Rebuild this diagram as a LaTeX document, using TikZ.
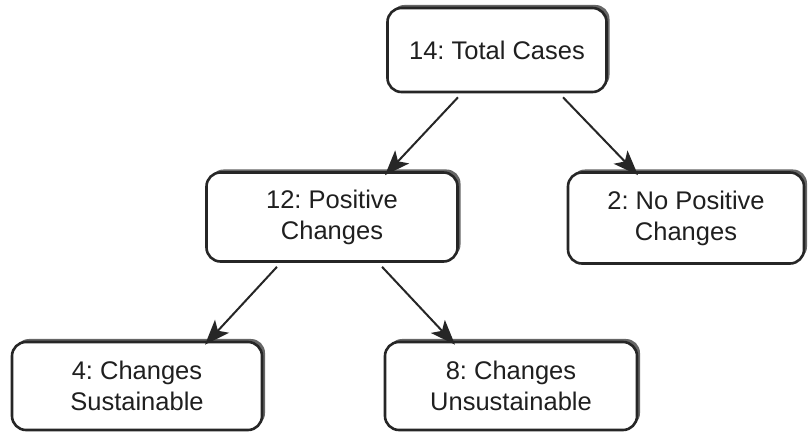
\documentclass[tikz,border=0pt]{standalone}
\usepackage{fontspec}
\setmainfont{Liberation Sans}
\usetikzlibrary{shadows,arrows.meta,calc}
\begin{document}
\frenchspacing
\begin{tikzpicture}[x=1bp,y=-1bp,
  box/.style={draw=black!85, line width=2.6bp, rounded corners=14bp, fill=white,
    align=center, font=\fontsize{25.5bp}{31bp}\selectfont, text=black!88,
    drop shadow={shadow xshift=3bp, shadow yshift=3bp, fill=black!60, opacity=1},
    inner sep=0pt},
  arr/.style={line width=2bp, draw=black!85, -{Stealth[length=25bp,width=19bp,inset=6bp]}}]
\useasboundingbox (0,0) rectangle (808,433);
\node[box, minimum width=219bp, minimum height=84bp] (top) at (497,50) {14: Total Cases};
\node[box, minimum width=251bp, minimum height=89bp] (pos) at (332,217) {12: Positive\\Changes};
\node[box, minimum width=236bp, minimum height=91bp] (neg) at (686,218) {2: No Positive\\Changes};
\node[box, minimum width=250bp, minimum height=88bp] (sus) at (137,386) {4: Changes\\Sustainable};
\node[box, minimum width=252bp, minimum height=88bp] (uns) at (511,386) {8: Changes\\Unsustainable};
\draw[arr] ([xshift=-39bp,yshift=-4bp]top.south) -- ([xshift=53bp,yshift=-4bp]pos.north);
\draw[arr] ([xshift=66bp,yshift=-4bp]top.south) -- ([xshift=-48bp,yshift=-4bp]neg.north);
\draw[arr] ([xshift=-55bp,yshift=-4bp]pos.south) -- ([xshift=68bp,yshift=-4bp]sus.north);
\draw[arr] ([xshift=50bp,yshift=-4bp]pos.south) -- ([xshift=-56bp,yshift=-4bp]uns.north);
\end{tikzpicture}
\end{document}
